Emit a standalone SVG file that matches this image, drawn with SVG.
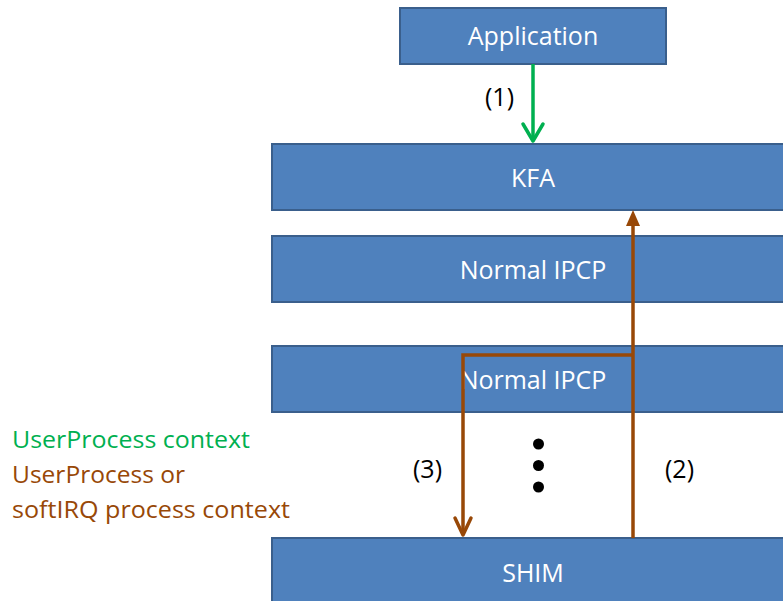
<svg xmlns="http://www.w3.org/2000/svg" width="783" height="601" viewBox="0 0 783 601">
  <style>
    .box { fill: #4F81BD; stroke: #3A5F8C; stroke-width: 2; }
    .lbl { font-family: "Open Sans", "Liberation Sans", sans-serif; font-size: 25px; fill: #FFFFFF; text-anchor: middle; }
    .num { font-family: "Open Sans", "Liberation Sans", sans-serif; font-size: 25px; fill: #000000; }
    .legend { font-family: "Open Sans", "Liberation Sans", sans-serif; font-size: 24px; }
    .green { stroke: #00B050; fill: none; stroke-width: 3.5; }
    .brown { stroke: #984807; fill: none; stroke-width: 3.5; }
  </style>
  <rect width="783" height="601" fill="#FFFFFF"/>

  <g id="application">
    <rect class="box" x="400" y="8" width="266" height="56"/>
    <text class="lbl" x="533" y="45">Application</text>
  </g>
  <g id="kfa">
    <rect class="box" x="272" y="144" width="530" height="66"/>
    <text class="lbl" x="533" y="187">KFA</text>
  </g>
  <g id="ipcp1">
    <rect class="box" x="272" y="236" width="530" height="66"/>
    <text class="lbl" x="533" y="279">Normal IPCP</text>
  </g>
  <g id="ipcp2">
    <rect class="box" x="272" y="346" width="530" height="66"/>
    <text class="lbl" x="533" y="389">Normal IPCP</text>
  </g>
  <g id="shim">
    <rect class="box" x="272" y="538" width="530" height="80"/>
    <text class="lbl" x="533" y="582">SHIM</text>
  </g>

  <g id="connectors">
    <!-- (1) Application to KFA -->
    <line class="green" x1="533" y1="64" x2="533" y2="141"/>
    <path d="M523,124 L533,141 L543,124" class="green" stroke-linecap="round" stroke-linejoin="round"/>
    <!-- (2) SHIM up to KFA -->
    <line class="brown" x1="633" y1="538" x2="633" y2="222"/>
    <path d="M626,226 L633,210 L640,226 Z" fill="#984807"/>
    <!-- (3) branch down to SHIM -->
    <path class="brown" d="M633,355 L463,355 L463,535"/>
    <path d="M455,518 L463,535 L471,518" class="brown" stroke-linecap="round" stroke-linejoin="round"/>
  </g>

  <g id="labels">
    <text class="num" x="485" y="106">(1)</text>
    <text class="num" x="413" y="478">(3)</text>
    <text class="num" x="665" y="478">(2)</text>
    <circle cx="538.5" cy="444" r="5.5" fill="#000000"/>
    <circle cx="538.5" cy="465.5" r="5.5" fill="#000000"/>
    <circle cx="538.5" cy="487" r="5.5" fill="#000000"/>
  </g>

  <g id="legend">
    <text class="legend" x="12" y="448" fill="#00B050" textLength="238" lengthAdjust="spacingAndGlyphs">UserProcess context</text>
    <text class="legend" x="12" y="483" fill="#984807" textLength="173" lengthAdjust="spacingAndGlyphs">UserProcess or</text>
    <text class="legend" x="12" y="518" fill="#984807" textLength="278" lengthAdjust="spacingAndGlyphs">softIRQ process context</text>
  </g>
</svg>
